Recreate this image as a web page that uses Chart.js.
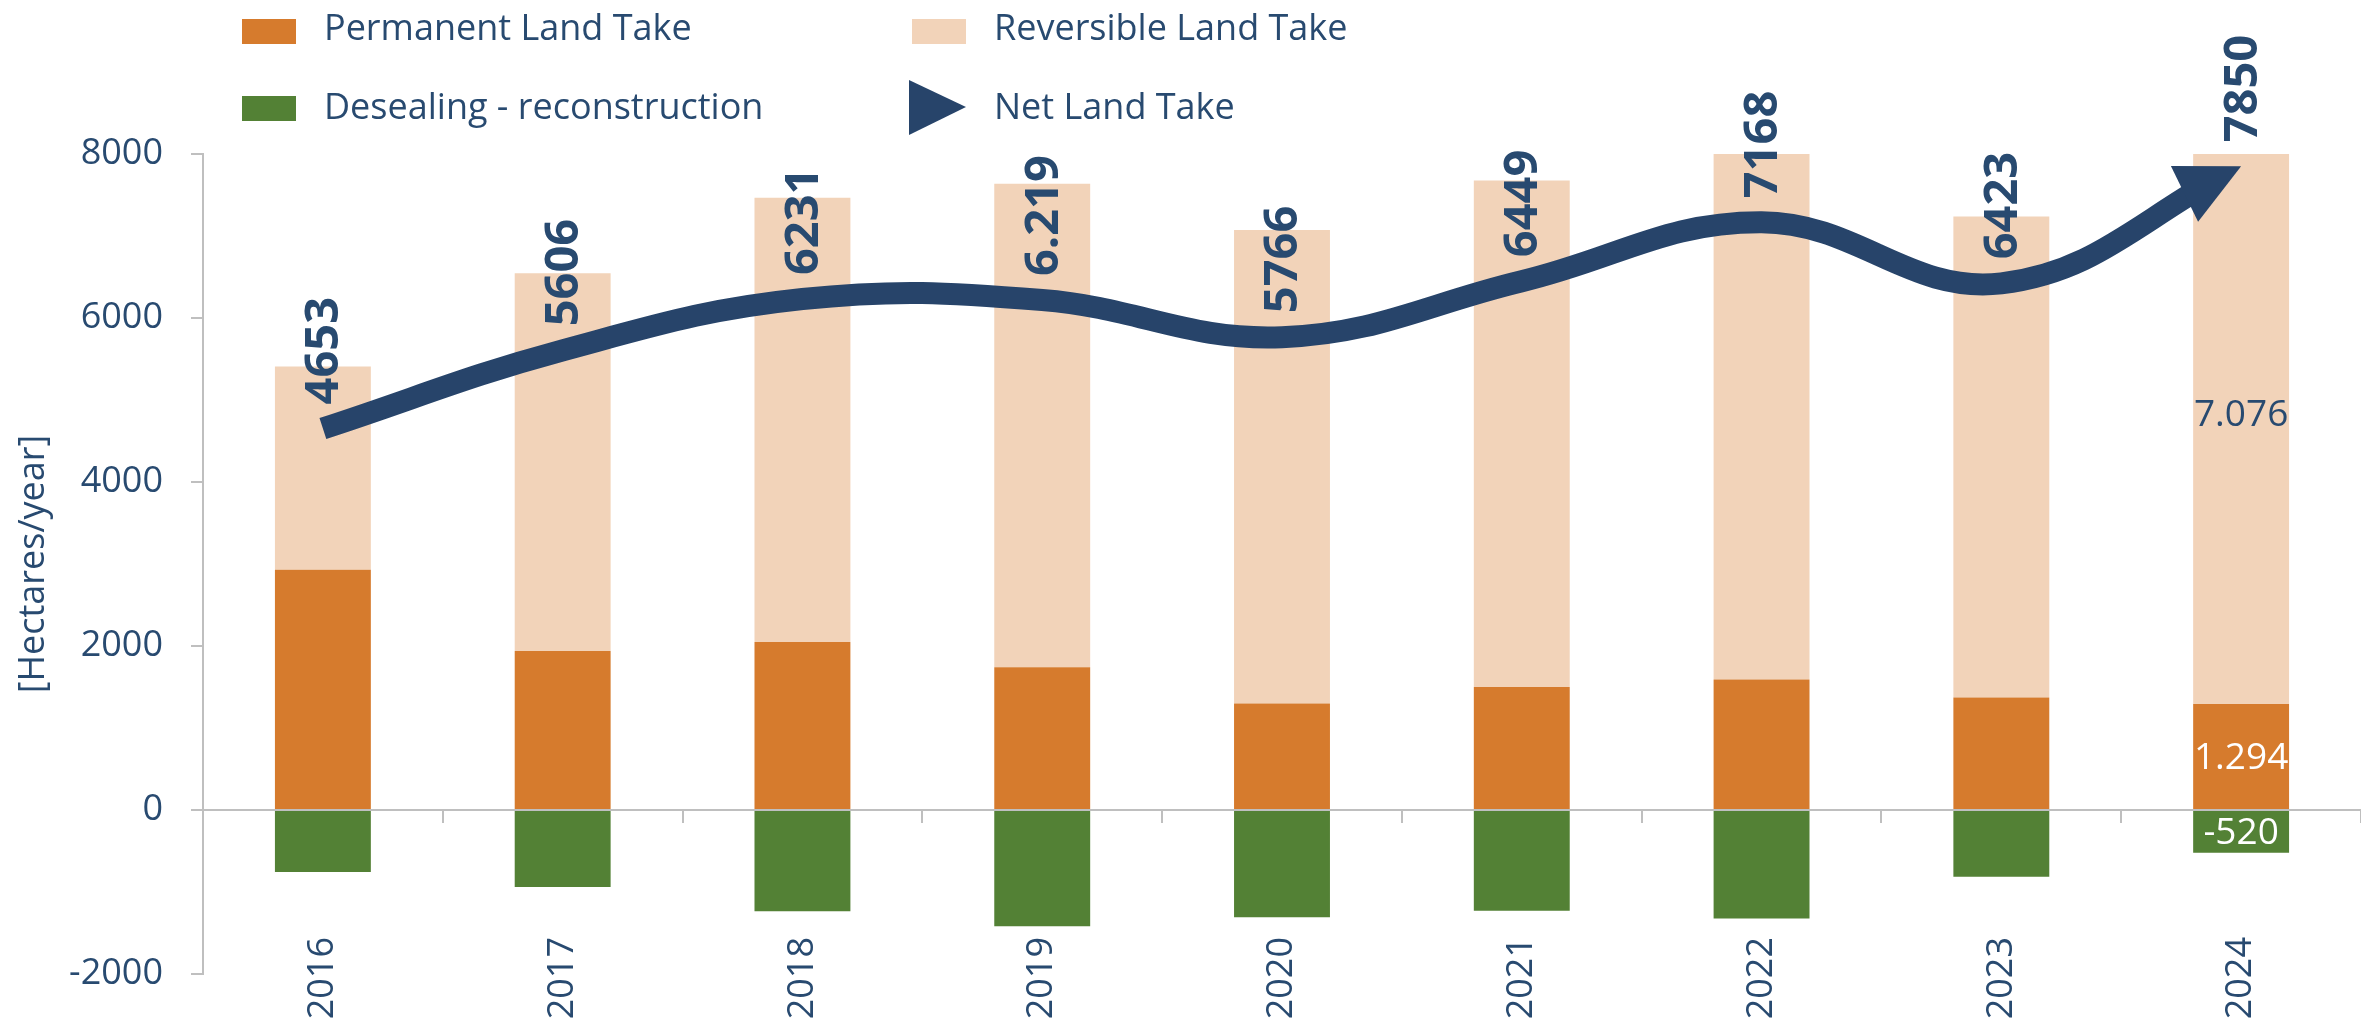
<!DOCTYPE html>
<html>
<head>
<meta charset="utf-8">
<script src="https://cdn.jsdelivr.net/npm/chart.js@4.4.1/dist/chart.umd.min.js"></script>
<style>
  html, body { margin: 0; padding: 0; background: #fff; }
  #wrap { width: 2361px; height: 1024px; }
</style>
</head>
<body>
<div id="wrap"><canvas id="landTake" width="2361" height="1024"></canvas></div>
<script>
// values (hectares / year)
const years = ['2016', '2017', '2018', '2019', '2020', '2021', '2022', '2023', '2024'];
const permanent = [2930, 1940, 2050, 1740, 1300, 1500, 1590, 1371, 1294];
const reversible = [2480, 4606, 5415, 5897, 5773, 6178, 6901, 5866, 7076];
const desealing = [-757, -940, -1234, -1418, -1307, -1229, -1323, -814, -520];
const netTake = [4653, 5606, 6231, 6219, 5766, 6449, 7168, 6423, 7850];
const netLabels = ['4653', '5606', '6231', '6.219', '5766', '6449', '7168', '6423', '7850'];
const yTicks = [-2000, 0, 2000, 4000, 6000, 8000];
const labelledYear = '2024';

const NAVY = '#27446A';
const TEXT = '#284A70';
const AXIS = '#BFBFBF';
const FONT = '"Open Sans", "DejaVu Sans", sans-serif';

const fmt = v => String(v).replace(/\B(?=(\d{3})+(?!\d))/g, '.');

function arrowDir(chart) {
  const pts = chart.getDatasetMeta(3).data;
  const p = pts[pts.length - 1], q = pts[pts.length - 2];
  let dx = p.x - q.x, dy = p.y - q.y;
  const len = Math.hypot(dx, dy);
  return { p, dx: dx / len, dy: dy / len };
}

// cut the thick line short under the arrow head, then draw the head at the last point
const arrowPlugin = {
  id: 'arrow',
  beforeDatasetDraw(chart, args) {
    if (args.index !== 3) return;
    const { p, dx, dy } = arrowDir(chart);
    const cx = p.x - dx * 50, cy = p.y - dy * 50;
    const nx = -dy, ny = dx, B = 5000;
    const ctx = chart.ctx;
    ctx.save();
    ctx.beginPath();
    ctx.moveTo(cx + nx * B, cy + ny * B);
    ctx.lineTo(cx + nx * B - dx * B, cy + ny * B - dy * B);
    ctx.lineTo(cx - nx * B - dx * B, cy - ny * B - dy * B);
    ctx.lineTo(cx - nx * B, cy - ny * B);
    ctx.closePath();
    ctx.clip();
  },
  afterDatasetDraw(chart, args) {
    if (args.index !== 3) return;
    const ctx = chart.ctx;
    ctx.restore();
    const { p, dx, dy } = arrowDir(chart);
    const L = 63, W = 31;
    const bx = p.x - dx * L, by = p.y - dy * L;
    ctx.save();
    ctx.fillStyle = NAVY;
    ctx.beginPath();
    ctx.moveTo(p.x, p.y);
    ctx.lineTo(bx - dy * W, by + dx * W);
    ctx.lineTo(bx + dy * W, by - dx * W);
    ctx.closePath();
    ctx.fill();
    ctx.restore();
  }
};

const labelPlugin = {
  id: 'valueLabels',
  afterDatasetsDraw(chart) {
    const ctx = chart.ctx;
    ctx.save();
    // net labels, rotated, above the line
    ctx.fillStyle = TEXT;
    ctx.font = 'bold 47px ' + FONT;
    ctx.textAlign = 'left';
    ctx.textBaseline = 'middle';
    chart.getDatasetMeta(3).data.forEach((pt, i) => {
      ctx.save();
      ctx.translate(pt.x, pt.y - 24);
      ctx.rotate(-Math.PI / 2);
      ctx.fillText(netLabels[i], 0, 2);
      ctx.restore();
    });
    // segment labels for the last year
    const idx = years.indexOf(labelledYear);
    const segs = [[0, '#FFFFFF'], [1, TEXT], [2, '#FFFFFF']];
    ctx.font = '37px ' + FONT;
    ctx.textAlign = 'center';
    segs.forEach(([di, col]) => {
      const bar = chart.getDatasetMeta(di).data[idx];
      const c = bar.getCenterPoint();
      ctx.fillStyle = col;
      ctx.fillText(fmt(chart.data.datasets[di].data[idx]), c.x, c.y + 2);
    });
    ctx.restore();
  }
};

const legendPlugin = {
  id: 'cornerLegend',
  afterDraw(chart) {
    const ctx = chart.ctx;
    const ds = chart.data.datasets;
    const spots = [
      { d: 0, x: 242, y: 19, tx: 324, base: 40 },
      { d: 1, x: 912, y: 19, tx: 994, base: 40 },
      { d: 2, x: 242, y: 96, tx: 324, base: 119 },
      { d: 3, x: 909, y: 80, tx: 994, base: 119 }
    ];
    ctx.save();
    ctx.font = '36px ' + FONT;
    ctx.textBaseline = 'alphabetic';
    ctx.textAlign = 'left';
    spots.forEach(s => {
      const d = ds[s.d];
      if (d.type === 'line') {
        ctx.fillStyle = d.borderColor;
        ctx.beginPath();
        ctx.moveTo(s.x, s.y);
        ctx.lineTo(s.x + 57, s.y + 27);
        ctx.lineTo(s.x, s.y + 55);
        ctx.closePath();
        ctx.fill();
      } else {
        ctx.fillStyle = d.backgroundColor;
        ctx.fillRect(s.x, s.y, 54, 25);
      }
      ctx.fillStyle = TEXT;
      ctx.fillText(d.label, s.tx, s.base);
    });
    ctx.restore();
  }
};

new Chart(document.getElementById('landTake').getContext('2d'), {
  data: {
    labels: years,
    datasets: [
      { type: 'bar', label: 'Permanent Land Take', data: permanent, backgroundColor: '#D67B2D', stack: 'bars', order: 2 },
      { type: 'bar', label: 'Reversible Land Take', data: reversible, backgroundColor: '#F2D3B9', stack: 'bars', order: 2 },
      { type: 'bar', label: 'Desealing - reconstruction', data: desealing, backgroundColor: '#538135', stack: 'bars', order: 2 },
      {
        type: 'line', label: 'Net Land Take', data: netTake, stack: 'net', order: 1,
        borderColor: NAVY, borderWidth: 22, tension: 0.4, pointRadius: 0,
        borderCapStyle: 'butt', clip: false
      }
    ]
  },
  options: {
    responsive: false,
    animation: false,
    layout: { padding: { top: 154, left: 0, right: 0, bottom: 50 } },
    plugins: { legend: { display: false }, tooltip: { enabled: false } },
    datasets: { bar: { barPercentage: 0.40, categoryPercentage: 1.0 } },
    scales: {
      x: {
        stacked: true,
        offset: true,
        position: { y: 0 },
        grid: { display: true, drawOnChartArea: false, drawTicks: true, tickLength: 12, offset: true, color: AXIS, lineWidth: 2 },
        border: { display: true, color: AXIS, width: 2 },
        ticks: {
          color: TEXT, font: { family: FONT, size: 36 },
          minRotation: 90, maxRotation: 90, padding: 115, autoSkip: false
        },
        afterFit: s => { s.paddingLeft = 0; s.paddingRight = 0; }
      },
      y: {
        stacked: true,
        min: -2000,
        max: 8000,
        afterBuildTicks: s => { s.ticks = yTicks.map(v => ({ value: v })); },
        grid: { drawOnChartArea: false, drawTicks: true, tickLength: 12, color: AXIS, lineWidth: 2 },
        border: { display: true, color: AXIS, width: 2 },
        ticks: { color: TEXT, font: { family: FONT, size: 36 }, padding: 28, callback: v => String(v) },
        title: {
          display: true, text: '[Hectares/year]', color: TEXT,
          font: { family: FONT, size: 36 }, padding: { top: 12, bottom: 0 }
        },
        afterFit: s => { s.width = 203; }
      }
    }
  },
  plugins: [arrowPlugin, labelPlugin, legendPlugin]
});
</script>
</body>
</html>
